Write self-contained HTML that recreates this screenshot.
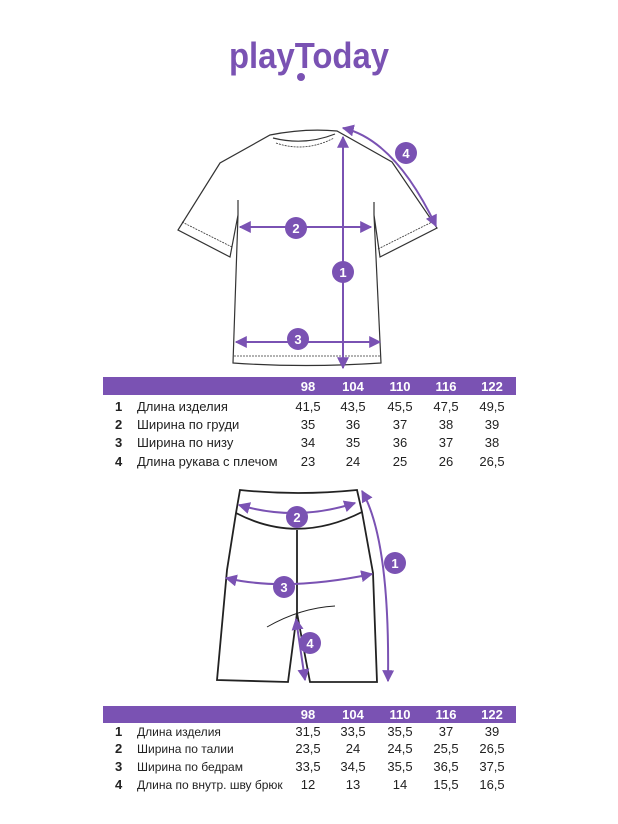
<!DOCTYPE html>
<html><head><meta charset="utf-8"><style>
body{margin:0;background:#fff}
svg{display:block}
text{font-family:"Liberation Sans",sans-serif}
</style></head><body>
<svg width="618" height="824" viewBox="0 0 618 824" xmlns="http://www.w3.org/2000/svg">
<defs>
<marker id="a" viewBox="0 0 10 10" refX="9" refY="5" markerWidth="6" markerHeight="6" orient="auto-start-reverse"><path d="M0,0 L10,5 L0,10 z" fill="#7a52b3"/></marker>
</defs>
<text x="309" y="68" text-anchor="middle" font-size="36" font-weight="bold" fill="#7a52b3" textLength="160" lengthAdjust="spacingAndGlyphs">playToday</text>
<circle cx="301" cy="77" r="4" fill="#7a52b3"/>

<g fill="none" stroke="#333" stroke-width="1.2">
<path d="M270,135 Q305,128 337,131 L392,162 L437,228 L380,257 L374,215 L381,363 Q305,368 233,363 L238,215 L230,257 L178,230 L220,163 Z"/>
<path d="M273,138 Q305,146 335,134"/>
<path d="M276,143 Q305,153 334,138" stroke-dasharray="2 1" stroke-width="0.8"/>
<path d="M238,200 L238,215 M374,202 L374,215"/>
<path d="M182,222 L232,247 M378,249 L432,222 M234,356 L380,356" stroke-dasharray="2 1" stroke-width="0.8"/>
</g>
<g stroke="#7a52b3" stroke-width="2" fill="none">
<line x1="343" y1="137" x2="343" y2="368" marker-start="url(#a)" marker-end="url(#a)"/>
<line x1="240" y1="227" x2="371" y2="227" marker-start="url(#a)" marker-end="url(#a)"/>
<line x1="236" y1="342" x2="380" y2="342" marker-start="url(#a)" marker-end="url(#a)"/>
<path d="M343,128 Q395,140 436,226" marker-start="url(#a)" marker-end="url(#a)"/>
</g>
<g fill="#7a52b3"><circle cx="343" cy="272" r="11"/><circle cx="296" cy="228" r="11"/><circle cx="298" cy="339" r="11"/><circle cx="406" cy="153" r="11"/></g>
<g fill="#fff" font-size="13" font-weight="bold" text-anchor="middle">
<text x="343" y="277">1</text><text x="296" y="233">2</text><text x="298" y="344">3</text><text x="406" y="158">4</text></g>

<rect x="103" y="377" width="413" height="18" fill="#7a52b3"/>
<g fill="#fff" font-size="13" font-weight="bold" text-anchor="middle">
<text x="308" y="391">98</text><text x="353" y="391">104</text><text x="400" y="391">110</text><text x="446" y="391">116</text><text x="492" y="391">122</text></g>
<g fill="#222" font-size="13">
<g font-weight="bold"><text x="115" y="411">1</text><text x="115" y="429">2</text><text x="115" y="447">3</text><text x="115" y="466">4</text></g>
<text x="137" y="411">Длина изделия</text><text x="137" y="429">Ширина по груди</text><text x="137" y="447">Ширина по низу</text><text x="137" y="466">Длина рукава с плечом</text>
<g text-anchor="middle">
<text x="308" y="411">41,5</text><text x="353" y="411">43,5</text><text x="400" y="411">45,5</text><text x="446" y="411">47,5</text><text x="492" y="411">49,5</text>
<text x="308" y="429">35</text><text x="353" y="429">36</text><text x="400" y="429">37</text><text x="446" y="429">38</text><text x="492" y="429">39</text>
<text x="308" y="447">34</text><text x="353" y="447">35</text><text x="400" y="447">36</text><text x="446" y="447">37</text><text x="492" y="447">38</text>
<text x="308" y="466">23</text><text x="353" y="466">24</text><text x="400" y="466">25</text><text x="446" y="466">26</text><text x="492" y="466">26,5</text>
</g></g>

<g fill="none" stroke="#222" stroke-width="1.8">
<path d="M240,490 Q298,496 357,490 L362,512 L373,573 L377,682 L310,682 L297,613 L288,682 L217,680 L227,570 L236,513 Z"/>
<path d="M236,513 Q297,545 362,512"/>
<path d="M297,530 L297,613"/>
<path d="M267,627 Q300,608 335,606" stroke-width="1"/>
</g>
<g stroke="#7a52b3" stroke-width="2" fill="none">
<path d="M362,491 Q390,540 388,681" marker-start="url(#a)" marker-end="url(#a)"/>
<path d="M239,505 Q297,522 355,503" marker-start="url(#a)" marker-end="url(#a)"/>
<path d="M226,578 Q285,592 372,574" marker-start="url(#a)" marker-end="url(#a)"/>
<line x1="296" y1="619" x2="305" y2="680" marker-start="url(#a)" marker-end="url(#a)"/>
</g>
<g fill="#7a52b3"><circle cx="395" cy="563" r="11"/><circle cx="297" cy="517" r="11"/><circle cx="284" cy="587" r="11"/><circle cx="310" cy="643" r="11"/></g>
<g fill="#fff" font-size="13" font-weight="bold" text-anchor="middle">
<text x="395" y="568">1</text><text x="297" y="522">2</text><text x="284" y="592">3</text><text x="310" y="648">4</text></g>

<rect x="103" y="706" width="413" height="17" fill="#7a52b3"/>
<g fill="#fff" font-size="13" font-weight="bold" text-anchor="middle">
<text x="308" y="719">98</text><text x="353" y="719">104</text><text x="400" y="719">110</text><text x="446" y="719">116</text><text x="492" y="719">122</text></g>
<g fill="#222" font-size="13">
<g font-weight="bold"><text x="115" y="736">1</text><text x="115" y="753">2</text><text x="115" y="771">3</text><text x="115" y="789">4</text></g>
<text x="137" y="736" font-size="12">Длина изделия</text><text x="137" y="753" font-size="12">Ширина по талии</text><text x="137" y="771" font-size="12">Ширина по бедрам</text><text x="137" y="789" font-size="12">Длина по внутр. шву брюк</text>
<g text-anchor="middle">
<text x="308" y="736">31,5</text><text x="353" y="736">33,5</text><text x="400" y="736">35,5</text><text x="446" y="736">37</text><text x="492" y="736">39</text>
<text x="308" y="753">23,5</text><text x="353" y="753">24</text><text x="400" y="753">24,5</text><text x="446" y="753">25,5</text><text x="492" y="753">26,5</text>
<text x="308" y="771">33,5</text><text x="353" y="771">34,5</text><text x="400" y="771">35,5</text><text x="446" y="771">36,5</text><text x="492" y="771">37,5</text>
<text x="308" y="789">12</text><text x="353" y="789">13</text><text x="400" y="789">14</text><text x="446" y="789">15,5</text><text x="492" y="789">16,5</text>
</g></g>
</svg>
</body></html>
